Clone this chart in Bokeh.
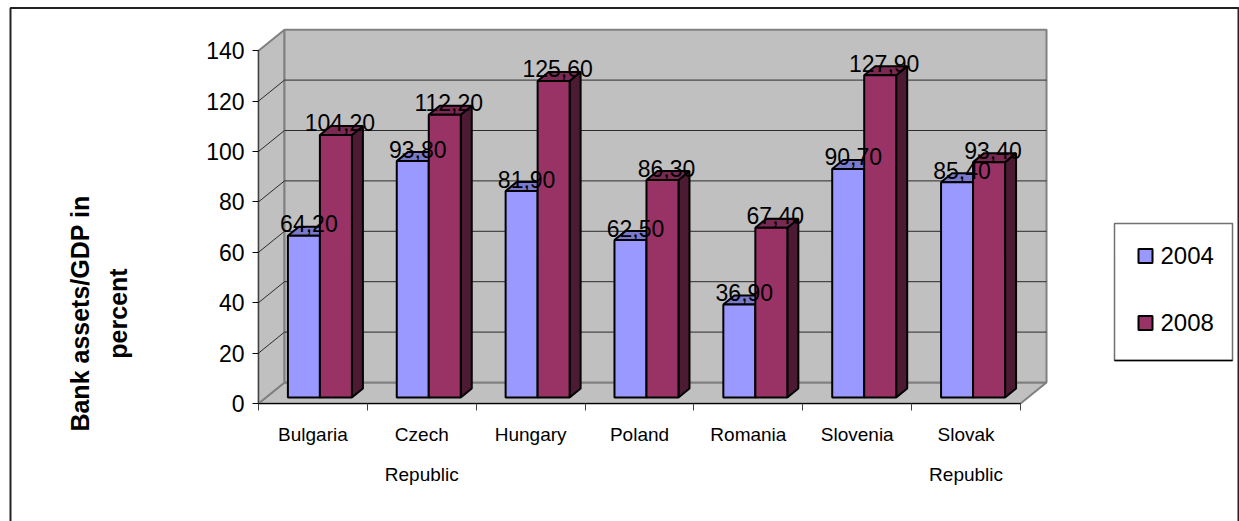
from bokeh.plotting import figure
from bokeh.embed import file_html
from bokeh.resources import INLINE
from bokeh.core.properties import value
from bokeh.models import ColumnDataSource, FixedTicker, LinearAxis, Range1d

categories = ["Bulgaria", "Czech\nRepublic", "Hungary", "Poland", "Romania", "Slovenia", "Slovak\nRepublic"]
years = ["2004", "2008"]
values_2004 = [64.2, 93.8, 81.9, 62.5, 36.9, 90.7, 85.4]
values_2008 = [104.2, 112.2, 125.6, 86.3, 67.4, 127.9, 93.4]
y_ticks = [0, 20, 40, 60, 80, 100, 120, 140]

W, H = 1239, 521
ORIGIN_X, ORIGIN_Y = 258, 403   # where the two axes cross, in page pixels
PX_X = 108.86                   # pixels per category
PX_Y = 2.52                     # pixels per percent

def dx(px):
    return (px - ORIGIN_X) / PX_X

def dy(px):
    return (ORIGIN_Y - px) / PX_Y

# oblique projection of the chart box and of the bars
wall_dx, wall_dy = 26 / PX_X, 21 / PX_Y
bar_dx, bar_dy = 11 / PX_X, 9 / PX_Y
floor_lift = 6 / PX_Y
bar_start, bar_w = 29.4 / PX_X, 32 / PX_X

p = figure(width=W, height=H, output_backend="svg", toolbar_location=None,
           x_range=Range1d(dx(0), dx(W)), y_range=Range1d(dy(H), dy(0)),
           x_axis_type=None, y_axis_type=None, min_border=0,
           background_fill_color="white", border_fill_color="white")
p.outline_line_color = None
p.grid.visible = False

n = len(categories)
top = y_ticks[-1]
wall_fill = "#c0c0c0"
edge = "#808080"
colors = {"2004": ("#9999ff", "#7a7acc", "#4d4d80"), "2008": ("#993366", "#7a2952", "#4d1a33")}

# outer frame of the chart area, open along the bottom of the page
p.line([dx(10), dx(10), dx(1238), dx(1238)], [dy(H), dy(7.5), dy(7.5), dy(H)], line_color="#222222", line_width=2)

# floor, side wall and back wall
p.patch([0, wall_dx, n + wall_dx, n], [0, wall_dy, wall_dy, 0], fill_color=wall_fill, line_color=edge, line_width=2)
p.patch([0, wall_dx, wall_dx, 0], [0, wall_dy, top + wall_dy, top], fill_color=wall_fill, line_color=edge, line_width=2)
p.patch([wall_dx, n + wall_dx, n + wall_dx, wall_dx],
        [wall_dy, wall_dy, top + wall_dy, top + wall_dy], fill_color=wall_fill, line_color=edge, line_width=2)

# gridlines across the back wall and down the side wall
for t in y_ticks[1:-1]:
    p.line([wall_dx, n + wall_dx], [t + wall_dy, t + wall_dy], line_color="#2b2b2b", line_width=1)
    p.line([0, wall_dx], [t, t + wall_dy], line_color="#2b2b2b", line_width=1)

def draw_series(values, offset, year):
    front, top_face, side_face = colors[year]
    xs0 = [i + bar_start + offset * bar_w for i in range(n)]
    xs1 = [x + bar_w for x in xs0]
    side_x = [[b, b + bar_dx, b + bar_dx, b] for b in xs1]
    side_y = [[floor_lift, floor_lift + bar_dy, v + floor_lift + bar_dy, v + floor_lift] for v in values]
    cap_x = [[a, a + bar_dx, b + bar_dx, b] for a, b in zip(xs0, xs1)]
    cap_y = [[v + floor_lift, v + floor_lift + bar_dy, v + floor_lift + bar_dy, v + floor_lift] for v in values]
    p.patches(side_x, side_y, fill_color=side_face, line_color="black", line_width=2)
    p.patches(cap_x, cap_y, fill_color=top_face, line_color="black", line_width=2)
    src = ColumnDataSource(dict(x0=xs0, x1=xs1, b=[floor_lift] * n, t=[v + floor_lift for v in values]))
    p.quad(left="x0", right="x1", bottom="b", top="t", source=src,
           fill_color=front, line_color="black", line_width=2)

draw_series(values_2004, 0, years[0])
draw_series(values_2008, 1, years[1])

def value_labels(values, offset, shift):
    xs = [i + bar_start + (offset + 0.5) * bar_w for i in range(n)]
    ys = [v + floor_lift for v in values]
    txt = [f"{v:.2f}".replace(".", ",") for v in values]
    p.text(xs, ys, text=txt, x_offset=shift, y_offset=-12, text_align="center",
           text_baseline="middle", text_font=value("Liberation Sans"), text_font_size="23px", text_color="black")

value_labels(values_2004, 0, 5)
value_labels(values_2008, 1, 4)

yax = LinearAxis(fixed_location=0, ticker=FixedTicker(ticks=y_ticks), bounds=(0, top))
yax.major_tick_in = 0
yax.major_tick_out = 6
yax.minor_tick_in = 0
yax.minor_tick_out = 0
yax.major_label_standoff = 8
yax.major_label_text_font = "Liberation Sans"
yax.major_label_text_font_size = "23px"
yax.major_label_text_color = "black"
yax.axis_line_color = "#404040"
yax.major_tick_line_color = "black"
p.add_layout(yax, "left")

xax = LinearAxis(fixed_location=0, bounds=(0, n),
                 ticker=FixedTicker(ticks=[i + 0.5 for i in range(n)], minor_ticks=list(range(n + 1))))
xax.major_label_overrides = {i + 0.5: c for i, c in enumerate(categories)}
xax.major_tick_in = 0
xax.major_tick_out = 0
xax.minor_tick_in = 0
xax.minor_tick_out = 7
xax.minor_tick_line_color = "#404040"
xax.axis_line_color = "black"
xax.major_label_standoff = 13
xax.major_label_text_font = "Liberation Sans"
xax.major_label_text_font_size = "19px"
xax.major_label_text_color = "black"
xax.major_label_text_line_height = 1.91
p.add_layout(xax, "below")

# legend box: grey on three sides, black along the bottom
p.quad(left=[dx(1114)], right=[dx(1232)], bottom=[dy(360)], top=[dy(223)],
       fill_color="white", line_color="#707070", line_width=1.5)
p.line([dx(1114), dx(1232)], [dy(360), dy(360)], line_color="black", line_width=1.5)
for year, row in zip(years, (255.5, 322.5)):
    p.quad(left=[dx(1138)], right=[dx(1152)], bottom=[dy(row + 7)], top=[dy(row - 7)],
           fill_color=colors[year][0], line_color="black", line_width=2)
    p.text([dx(1160)], [dy(row - 1)], text=[year], text_align="left", text_baseline="middle",
           text_font=value("Liberation Sans"), text_font_size="24px", text_color="black")

# two-line value-axis title, turned to read upwards
p.text([dx(98.5)], [dy(313)], text=["Bank assets/GDP in\npercent"], angle=90, angle_units="deg",
       text_align="center", text_baseline="middle", text_font=value("Liberation Sans"),
       text_font_style="bold", text_font_size="25px", text_color="black", text_line_height=1.38)

open("out.html", "w").write(file_html(p, INLINE))
